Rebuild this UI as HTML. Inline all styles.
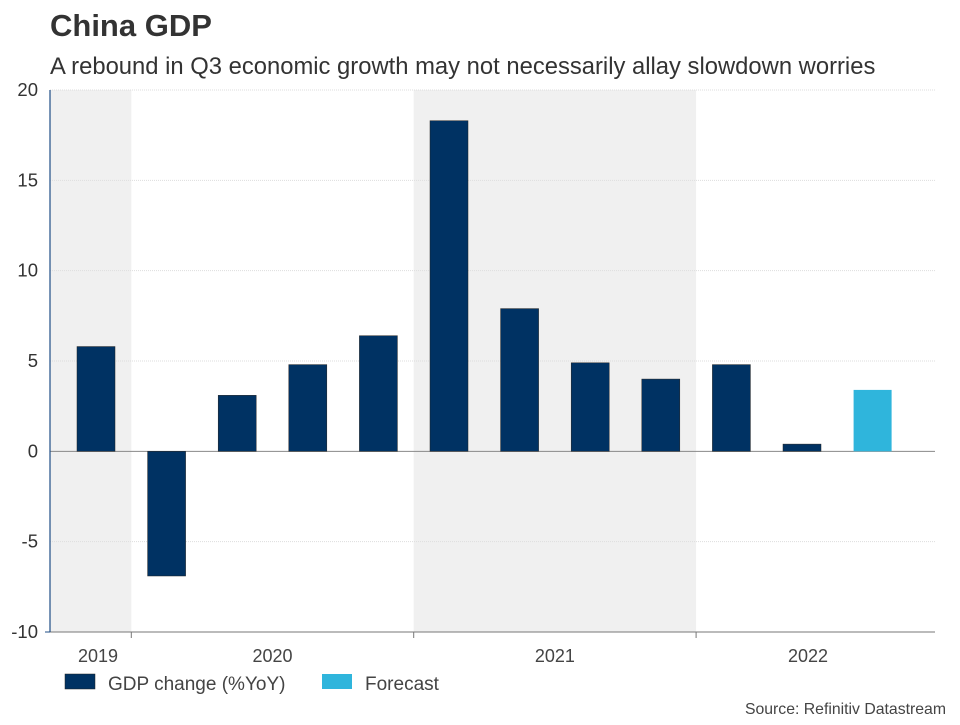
<!DOCTYPE html>
<html><head><meta charset="utf-8"><style>
body{margin:0;background:#fff;font-family:"Liberation Sans",Arial,sans-serif;}
</style></head><body>
<svg width="960" height="720" xmlns="http://www.w3.org/2000/svg" font-family="Liberation Sans, Arial, sans-serif">
<text x="50" y="36" font-size="31" font-weight="bold" fill="#333">China GDP</text>
<text x="50" y="74" font-size="23.8" fill="#333">A rebound in Q3 economic growth may not necessarily allay slowdown worries</text>
<g id="plot"></g>
<rect x="65" y="674" width="30" height="15" fill="#003263" stroke="#222" stroke-width="0.5"/>
<text x="108" y="690" font-size="19" fill="#444">GDP change (%YoY)</text>
<rect x="322" y="674" width="30" height="15" fill="#2fb5dc"/>
<text x="365" y="690" font-size="19" fill="#444">Forecast</text>
<text x="946" y="714" font-size="15.8" fill="#444" text-anchor="end">Source: Refinitiv Datastream</text>
</svg>
<script>
const quarters=["2019Q3","2019Q4","2020Q1","2020Q2","2020Q3","2020Q4","2021Q1","2021Q2","2021Q3","2021Q4","2022Q1","2022Q2"];
const values=[5.8,-6.9,3.1,4.8,6.4,18.3,7.9,4.9,4.0,4.8,0.4,3.4];
const forecastFlags=[0,0,0,0,0,0,0,0,0,0,0,1];
const yTicks=[20,15,10,5,0,-5,-10];
const years=["2019","2020","2021","2022"];
const yearStart=[0,1,5,9];
const yearEnd=[1,5,9,12];
const shaded=[1,0,1,0];
const NS="http://www.w3.org/2000/svg";
const g=document.getElementById('plot');
const X0=50,X1=935,Y0=90,Y1=632,yMin=-10,yMax=20;
const first=96,step=70.6,bw=38;
function y(v){return Y0+(yMax-v)/(yMax-yMin)*(Y1-Y0);}
function xc(i){return first+i*step;}
function xb(i){return i<=0?X0:(i>=quarters.length?X1:xc(i)-step/2);}
function el(t,a){const e=document.createElementNS(NS,t);for(const k in a)e.setAttribute(k,a[k]);g.appendChild(e);return e;}
years.forEach((yr,i)=>{
 if(shaded[i]){const r=el('rect',{x:xb(yearStart[i]),y:Y0,width:xb(yearEnd[i])-xb(yearStart[i]),height:Y1-Y0,fill:'#f0f0f0'});
 
 }
 const lx=(xc(yearStart[i])+xc(yearEnd[i]-1))/2+(i===years.length-1?6:(i===0?2:0));
 const t=el('text',{x:lx,y:662,'font-size':18,fill:'#444','text-anchor':'middle'});t.textContent=yr;
 
 
 if(i>0){const l=el('line',{x1:xb(yearStart[i]),x2:xb(yearStart[i]),y1:Y1,y2:Y1+6,stroke:'#777'});
 
 }
});
yTicks.forEach(v=>{
 const l=el('line',{x1:X0,x2:X1,y1:y(v),y2:y(v),stroke:v===0?'#888':'#ddd','stroke-dasharray':v===0?'':'1,1'});
 
 
 const t=el('text',{x:38,y:y(v)+6,'font-size':18.5,fill:'#333','text-anchor':'end'});t.textContent=v;
 
 
});
values.forEach((v,i)=>{
 const r=el('rect',{x:xc(i)-bw/2,y:Math.min(y(v),y(0)),width:bw,height:Math.abs(y(v)-y(0)),fill:forecastFlags[i]?'#2fb5dc':'#003263',stroke:forecastFlags[i]?'none':'#222','stroke-width':0.5});
 
 
});
const ax=el('line',{x1:X0,x2:X1,y1:Y1,y2:Y1,stroke:'#777'});


const ay=el('line',{x1:X0,x2:X0,y1:Y0,y2:Y1,stroke:'#1f4e86','stroke-width':1.2});


const tk=el('line',{x1:X0-5,x2:X0,y1:Y1,y2:Y1,stroke:'#1f4e86'});


</script>
</body></html>
